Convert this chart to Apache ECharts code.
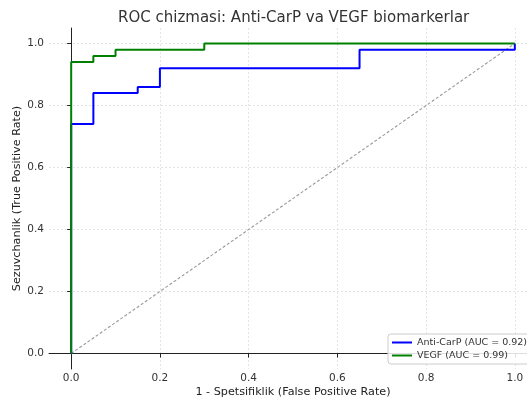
<!DOCTYPE html>
<html>
<head>
<meta charset="utf-8">
<script src="https://cdn.jsdelivr.net/npm/echarts@6/dist/echarts.min.js"></script>
<style>
html,body{margin:0;padding:0;background:#fff;}
#chart{width:527px;height:401px;}
</style>
</head>
<body>
<div id="chart"></div>
<script>
var titleText = 'ROC chizmasi: Anti-CarP va VEGF biomarkerlar';
var xAxisName = '1 - Spetsifiklik (False Positive Rate)';
var yAxisName = 'Sezuvchanlik (True Positive Rate)';
var tickValues = [0, 0.2, 0.4, 0.6, 0.8, 1.0];

var antiCarpName = 'Anti-CarP (AUC = 0.92)';
var antiCarpFpr = [0, 0, 0.05, 0.05, 0.15, 0.15, 0.2, 0.2, 0.65, 0.65, 1.0, 1.0];
var antiCarpTpr = [0, 0.74, 0.74, 0.84, 0.84, 0.86, 0.86, 0.92, 0.92, 0.98, 0.98, 1.0];

var vegfName = 'VEGF (AUC = 0.99)';
var vegfFpr = [0, 0, 0.05, 0.05, 0.1, 0.1, 0.3, 0.3, 1.0];
var vegfTpr = [0, 0.94, 0.94, 0.96, 0.96, 0.98, 0.98, 1.0, 1.0];

var diagX = [0, 1];
var diagY = [0, 1];

function zip(a, b) { return a.map(function (v, i) { return [v, b[i]]; }); }

var font = 'DejaVu Sans';
var chart = echarts.init(document.getElementById('chart'), null, {renderer: 'canvas'});

var axisCommon = {
  type: 'value',
  min: -0.05,
  max: 1.05,
  axisLine: {show: true, lineStyle: {color: '#222', width: 1}},
  axisTick: {show: true, length: 4, inside: false, customValues: tickValues, lineStyle: {color: '#222', width: 1}},
  axisLabel: {customValues: tickValues, fontFamily: font, fontSize: 10.5, color: '#333',
    formatter: function (v) { return v.toFixed(1); }},
  splitLine: {show: true, lineStyle: {color: '#dcdcdc', type: [2, 2], width: 0.8}},
  nameLocation: 'middle',
  nameMoveOverlap: false,
  nameTextStyle: {fontFamily: font, fontSize: 11.2, color: '#222'}
};

chart.setOption({
  backgroundColor: '#fff',
  animation: false,
  title: {
    text: titleText,
    left: 113,
    top: 6,
    textStyle: {fontFamily: font, fontSize: 15, fontWeight: 'normal', color: '#333'}
  },
  grid: {left: 49, top: 28, width: 488, height: 341, containLabel: false, outerBoundsMode: 'none'},
  xAxis: Object.assign({}, axisCommon, {
    name: xAxisName, nameGap: 18,
    axisLabel: Object.assign({}, axisCommon.axisLabel, {margin: 4})
  }),
  yAxis: Object.assign({}, axisCommon, {
    name: yAxisName, nameGap: 26,
    axisLabel: Object.assign({}, axisCommon.axisLabel, {margin: 5})
  }),
  legend: {
    orient: 'vertical',
    left: 388,
    top: 334,
    padding: [3, 4, 3, 4],
    itemWidth: 20,
    itemHeight: 2,
    itemGap: 2,
    icon: 'rect',
    backgroundColor: 'rgba(255,255,255,0.85)',
    borderColor: '#cccccc',
    borderWidth: 1,
    borderRadius: 3,
    textStyle: {fontFamily: font, fontSize: 9.5, color: '#333', lineHeight: 11},
    data: [antiCarpName, vegfName]
  },
  series: [
    {
      name: 'diag', type: 'line', data: zip(diagX, diagY), symbol: 'none', silent: true,
      lineStyle: {color: '#999999', width: 1.1, type: [3, 2]}, z: 1
    },
    {
      name: antiCarpName, type: 'line', data: zip(antiCarpFpr, antiCarpTpr), symbol: 'none',
      itemStyle: {color: '#0000ff'}, lineStyle: {color: '#0000ff', width: 2}, z: 2
    },
    {
      name: vegfName, type: 'line', data: zip(vegfFpr, vegfTpr), symbol: 'none',
      itemStyle: {color: '#008000'}, lineStyle: {color: '#008000', width: 2}, z: 3
    }
  ]
});
</script>
</body>
</html>
